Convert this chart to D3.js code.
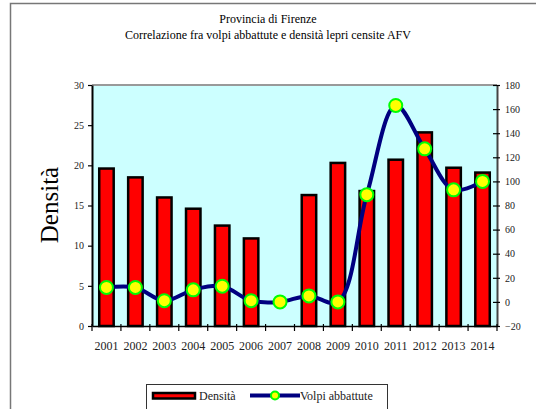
<!DOCTYPE html>
<html>
<head>
<meta charset="utf-8">
<script src="https://cdn.jsdelivr.net/npm/d3@7"></script>
<style>
  html, body { margin: 0; padding: 0; background: #fff; }
  svg, svg text { font-family: "Liberation Serif", "Times New Roman", serif; }
  svg { display: block; }
</style>
</head>
<body>
<svg id="chart" width="536" height="409"></svg>
<script>
// data
const years = ["2001", "2002", "2003", "2004", "2005", "2006", "2007", "2008", "2009", "2010", "2011", "2012", "2013", "2014"];
const densita = [19.6, 18.5, 16.0, 14.6, 12.5, 10.9, null, 16.3, 20.3, 16.8, 20.7, 24.1, 19.7, 19.1];
const volpi = [12, 12, 1, 10, 13, 1, 0, 5, 0, 89, 163, 127, 93, 100];
const leftTicks = [0, 5, 10, 15, 20, 25, 30];
const rightTicks = [-20, 0, 20, 40, 60, 80, 100, 120, 140, 160, 180];
const titleLines = ["Provincia di Firenze", "Correlazione fra volpi abbattute e densità lepri censite AFV"];

const svg = d3.select("#chart");

// outer frame (cut off at right and bottom like the reference)
svg.append("rect")
    .attr("x", 10.5).attr("y", 3.5)
    .attr("width", 600).attr("height", 500)
    .attr("fill", "none")
    .attr("stroke", "#777")
    .attr("stroke-width", 1.5);

// plot area
const plot = { left: 92, right: 497, top: 85, bottom: 326 };

const x = d3.scaleBand()
    .domain(years)
    .range([plot.left, plot.right])
    .paddingInner(0.5)
    .paddingOuter(0.25);

const yLeft = d3.scaleLinear().domain([0, 30]).range([plot.bottom, plot.top]);
const yRight = d3.scaleLinear().domain([-20, 180]).range([plot.bottom, plot.top]);

svg.append("rect")
    .attr("x", plot.left).attr("y", plot.top)
    .attr("width", plot.right - plot.left)
    .attr("height", plot.bottom - plot.top)
    .attr("fill", "#ccffff");

// top border gray
svg.append("line")
    .attr("x1", plot.left).attr("x2", plot.right)
    .attr("y1", plot.top).attr("y2", plot.top)
    .attr("stroke", "#999").attr("stroke-width", 2);

// titles
svg.append("g").selectAll("text")
    .data(titleLines)
    .join("text")
    .attr("x", 268)
    .attr("y", (d, i) => 23 + i * 16)
    .attr("text-anchor", "middle")
    .attr("font-size", 12)
    .attr("fill", "#000")
    .text(d => d);

// bars
svg.append("g").selectAll("rect")
    .data(years.map((y, i) => ({ year: y, v: densita[i] })).filter(d => d.v != null))
    .join("rect")
    .attr("x", d => x(d.year))
    .attr("y", d => yLeft(d.v))
    .attr("width", x.bandwidth())
    .attr("height", d => yLeft(0) - yLeft(d.v))
    .attr("fill", "#ff0000")
    .attr("stroke", "#000")
    .attr("stroke-width", 2.5);

// left axis
const leftAxis = svg.append("g")
    .attr("transform", `translate(${plot.left},0)`)
    .call(d3.axisLeft(yLeft).tickValues(leftTicks).tickSizeInner(4).tickSizeOuter(0).tickPadding(4))
    .attr("font-family", null);
leftAxis.select(".domain").attr("stroke", "#000").attr("stroke-width", 2);
leftAxis.selectAll(".tick line").attr("stroke", "#000").attr("stroke-width", 1.2);
leftAxis.selectAll(".tick text").attr("font-size", 10).attr("fill", "#222");

// right axis
const rightAxis = svg.append("g")
    .attr("transform", `translate(${plot.right},0)`)
    .call(d3.axisRight(yRight).tickValues(rightTicks).tickSizeInner(3).tickSizeOuter(0).tickPadding(5))
    .attr("font-family", null);
rightAxis.select(".domain").attr("stroke", "#444").attr("stroke-width", 2);
rightAxis.selectAll(".tick line").attr("x1", -4).attr("stroke", "#000").attr("stroke-width", 1.2);
rightAxis.selectAll(".tick text").attr("font-size", 10).attr("fill", "#222");

// bottom axis with ticks between categories
const bottomAxis = svg.append("g")
    .attr("transform", `translate(0,${plot.bottom})`)
    .call(d3.axisBottom(x).tickSize(0).tickPadding(15))
    .attr("font-family", null);
bottomAxis.select(".domain").attr("stroke", "#000").attr("stroke-width", 1.5);
bottomAxis.selectAll(".tick text").attr("font-size", 12).attr("fill", "#222");

const boundaries = years.map(y => x(y) - x.step() * x.paddingInner() / 2).concat([plot.right]);
bottomAxis.append("g").selectAll("line")
    .data(boundaries)
    .join("line")
    .attr("x1", d => d).attr("x2", d => d)
    .attr("y1", -2).attr("y2", 5)
    .attr("stroke", "#000").attr("stroke-width", 1.2);

// left axis title
svg.append("text")
    .attr("transform", `translate(58,205) rotate(-90)`)
    .attr("text-anchor", "middle")
    .attr("font-size", 25)
    .attr("fill", "#000")
    .text("Densità");

// line (smoothed)
const line = d3.line()
    .x((d, i) => x(years[i]) + x.bandwidth() / 2)
    .y(d => yRight(d))
    .curve(d3.curveCatmullRom.alpha(0.5));

svg.append("path")
    .datum(volpi)
    .attr("d", line)
    .attr("fill", "none")
    .attr("stroke", "#000080")
    .attr("stroke-width", 4);

svg.append("g").selectAll("circle")
    .data(volpi)
    .join("circle")
    .attr("cx", (d, i) => x(years[i]) + x.bandwidth() / 2)
    .attr("cy", d => yRight(d))
    .attr("r", 6.5)
    .attr("fill", "#ffff00")
    .attr("stroke", "#00ff00")
    .attr("stroke-width", 2);

// legend
const legend = svg.append("g");
legend.append("rect")
    .attr("x", 146.5).attr("y", 384.5)
    .attr("width", 241).attr("height", 40)
    .attr("fill", "#fff")
    .attr("stroke", "#333").attr("stroke-width", 1);
legend.append("rect")
    .attr("x", 153).attr("y", 393)
    .attr("width", 42).attr("height", 5.5)
    .attr("fill", "#ff0000")
    .attr("stroke", "#000").attr("stroke-width", 2.5);
legend.append("text")
    .attr("x", 199).attr("y", 400)
    .attr("font-size", 12).attr("fill", "#222")
    .text("Densità");
legend.append("line")
    .attr("x1", 250).attr("x2", 300)
    .attr("y1", 395.5).attr("y2", 395.5)
    .attr("stroke", "#000080").attr("stroke-width", 4);
legend.append("circle")
    .attr("cx", 275).attr("cy", 395.5).attr("r", 4)
    .attr("fill", "#ffff00")
    .attr("stroke", "#00ff00").attr("stroke-width", 2);
legend.append("text")
    .attr("x", 300).attr("y", 400)
    .attr("font-size", 12).attr("fill", "#222")
    .text("Volpi abbattute");
</script>
</body>
</html>
